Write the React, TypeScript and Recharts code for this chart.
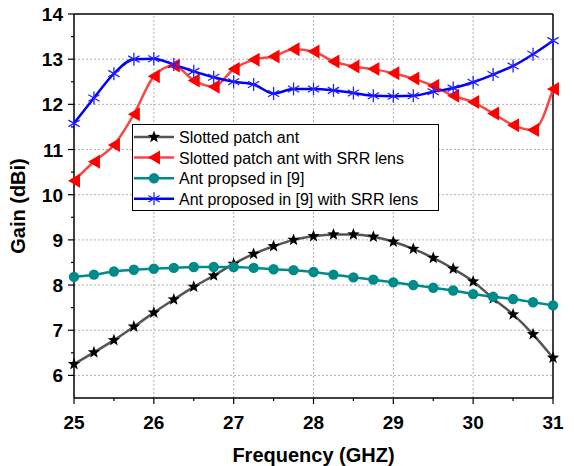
import React from "react";
import {
  LineChart,
  Line,
  XAxis,
  YAxis,
  ReferenceLine,
} from "recharts";

const FREQ = [
  25, 25.25, 25.5, 25.75, 26, 26.25, 26.5, 26.75, 27, 27.25, 27.5, 27.75, 28,
  28.25, 28.5, 28.75, 29, 29.25, 29.5, 29.75, 30, 30.25, 30.5, 30.75, 31,
];
const SLOTTED = [
  6.25, 6.51, 6.78, 7.08, 7.39, 7.68, 7.96, 8.21, 8.47, 8.69, 8.86, 9.0, 9.08,
  9.12, 9.12, 9.07, 8.96, 8.8, 8.6, 8.36, 8.08, 7.7, 7.35, 6.91, 6.39,
];
const SLOTTED_SRR = [
  10.31, 10.73, 11.1, 11.78, 12.62, 12.86, 12.53, 12.39, 12.78, 12.99, 13.06,
  13.22, 13.17, 12.95, 12.84, 12.78, 12.69, 12.57, 12.41, 12.19, 12.05, 11.8,
  11.54, 11.43, 12.34,
];
const ANT9 = [
  8.18, 8.23, 8.3, 8.34, 8.36, 8.38, 8.4, 8.4, 8.4, 8.38, 8.35, 8.33, 8.29,
  8.23, 8.17, 8.12, 8.06, 8.0, 7.94, 7.88, 7.8, 7.74, 7.69, 7.62, 7.55,
];
const ANT9_SRR = [
  11.58, 12.14, 12.68, 13.0, 13.01, 12.88, 12.73, 12.6, 12.5, 12.44, 12.24,
  12.34, 12.34, 12.31, 12.25, 12.19, 12.18, 12.19, 12.28, 12.36, 12.49, 12.66,
  12.85, 13.11, 13.41,
];

const X_TICKS = [25, 25.5, 26, 26.5, 27, 27.5, 28, 28.5, 29, 29.5, 30, 30.5, 31];
const Y_TICKS = [6, 6.5, 7, 7.5, 8, 8.5, 9, 9.5, 10, 10.5, 11, 11.5, 12, 12.5, 13, 13.5, 14];
const X_GRID = [26, 27, 28, 29, 30];
const Y_GRID = [6, 7, 8, 9, 10, 11, 12, 13];

const FONT = "'Liberation Sans', Arial, sans-serif";

const rows = FREQ.map((f, i) => ({
  f,
  slotted: SLOTTED[i],
  slottedSrr: SLOTTED_SRR[i],
  ant9: ANT9[i],
  ant9Srr: ANT9_SRR[i],
}));

function starPath(cx: number, cy: number, R: number, r: number) {
  let d = "";
  for (let k = 0; k < 10; k++) {
    const rad = k % 2 === 0 ? R : r;
    const a = -Math.PI / 2 + (k * Math.PI) / 5;
    d += (k === 0 ? "M" : "L") + (cx + rad * Math.cos(a)) + "," + (cy + rad * Math.sin(a));
  }
  return d + "Z";
}

function Star({ cx, cy }: any) {
  return <path d={starPath(cx, cy, 6.5, 2.7)} fill="#000" />;
}
function TriLeft({ cx, cy }: any) {
  return (
    <path
      d={`M${cx - 6},${cy}L${cx + 6},${cy - 7}L${cx + 6},${cy + 7}Z`}
      fill="#ff0000"
    />
  );
}
function Dot({ cx, cy }: any) {
  return <circle cx={cx} cy={cy} r={5.2} fill="#008b8b" />;
}
function Asterisk({ cx, cy }: any) {
  const R = 6.5;
  const dx = R * Math.cos(Math.PI / 6);
  const dy = R * Math.sin(Math.PI / 6);
  return (
    <g stroke="#2222ff" strokeWidth={1.3}>
      <line x1={cx} y1={cy - R} x2={cx} y2={cy + R} />
      <line x1={cx - dx} y1={cy - dy} x2={cx + dx} y2={cy + dy} />
      <line x1={cx - dx} y1={cy + dy} x2={cx + dx} y2={cy - dy} />
    </g>
  );
}

const SERIES = [
  { key: "slotted", name: "Slotted patch ant", line: "#555555", Marker: Star },
  { key: "slottedSrr", name: "Slotted patch ant with SRR lens", line: "#f54848", Marker: TriLeft },
  { key: "ant9", name: "Ant propsed in [9]", line: "#008b8b", Marker: Dot },
  { key: "ant9Srr", name: "Ant proposed in [9] with SRR lens", line: "#0000ff", Marker: Asterisk },
];

function XTick({ x, y, payload }: any) {
  const v = payload.value;
  const major = Number.isInteger(v);
  return (
    <g>
      <line x1={x} y1={y} x2={x} y2={y + (major ? 6 : 3)} stroke="#000" strokeWidth={1.2} />
      {major && (
        <text x={x} y={y + 31} textAnchor="middle" fontSize={19} fontWeight="bold" fontFamily={FONT} fill="#000">
          {v}
        </text>
      )}
    </g>
  );
}

function YTick({ x, y, payload }: any) {
  const v = payload.value;
  const major = Number.isInteger(v);
  return (
    <g>
      <line x1={major ? x - 6 : x - 3} y1={y} x2={x} y2={y} stroke="#000" strokeWidth={1.2} />
      {major && (
        <text x={x - 11} y={y + 7} textAnchor="end" fontSize={19} fontWeight="bold" fontFamily={FONT} fill="#000">
          {v}
        </text>
      )}
    </g>
  );
}

function LegendBox() {
  return (
    <div
      style={{
        position: "absolute",
        left: 132,
        top: 124,
        width: 305,
        height: 85,
        border: "1px solid #000",
        background: "#fff",
      }}
    >
      <svg width={305} height={85} style={{ display: "block" }}>
        {SERIES.map((s, i) => {
          const y = 12 + i * 20.6;
          const M = s.Marker;
          return (
            <g key={s.key}>
              <line x1={1} y1={y} x2={41} y2={y} stroke={s.line} strokeWidth={2.5} />
              <M cx={21} cy={y} />
              <text x={46} y={y + 6} fontSize={16} fontFamily={FONT} fill="#000">
                {s.name}
              </text>
            </g>
          );
        })}
      </svg>
    </div>
  );
}

export default function App() {
  return (
    <div style={{ position: "absolute", left: 0, top: 0, width: 574, height: 466, background: "#fff" }}>
      <LineChart
        width={574}
        height={466}
        data={rows}
        margin={{ top: 14, right: 21, left: 14, bottom: 0 }}
      >
        <XAxis
          dataKey="f"
          type="number"
          domain={[25, 31]}
          ticks={X_TICKS}
          interval={0}
          height={68}
          tickSize={0}
          tickMargin={0}
          tick={<XTick />}
          axisLine={{ stroke: "#000", strokeWidth: 1.5 }}
          tickLine={false}
          label={{
            value: "Frequency (GHZ)",
            position: "insideBottom",
            offset: 4,
            style: { fontSize: 20, fontWeight: "bold", fontFamily: FONT, fill: "#000" },
          }}
        />
        <YAxis
          type="number"
          domain={[5.5, 14]}
          ticks={Y_TICKS}
          interval={0}
          width={60}
          tickSize={0}
          tickMargin={0}
          tick={<YTick />}
          axisLine={{ stroke: "#000", strokeWidth: 1.5 }}
          tickLine={false}
          label={{
            value: "Gain (dBi)",
            angle: -90,
            position: "insideLeft",
            offset: 4,
            style: { fontSize: 20, fontWeight: "bold", fontFamily: FONT, fill: "#000", textAnchor: "middle" },
          }}
        />
        {X_GRID.map((v) => (
          <ReferenceLine key={"x" + v} x={v} stroke="#b0b0b0" strokeDasharray="2 2" />
        ))}
        {Y_GRID.map((v) => (
          <ReferenceLine key={"y" + v} y={v} stroke="#b0b0b0" strokeDasharray="2 2" />
        ))}
        <ReferenceLine x={31} stroke="#000" strokeWidth={1.5} />
        <ReferenceLine y={14} stroke="#000" strokeWidth={1.5} />
        {SERIES.map((s) => {
          const M = s.Marker;
          return (
            <Line
              key={s.key}
              dataKey={s.key}
              name={s.name}
              type="monotone"
              stroke={s.line}
              strokeWidth={2.5}
              dot={(p: any) => <M key={s.key + p.index} cx={p.cx} cy={p.cy} />}
              activeDot={false}
              isAnimationActive={false}
            />
          );
        })}
      </LineChart>
      <LegendBox />
    </div>
  );
}
